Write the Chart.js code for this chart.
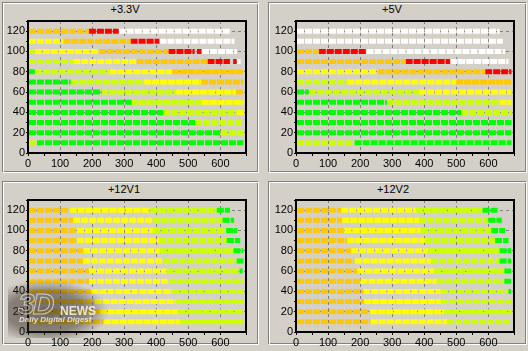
<!DOCTYPE html>
<html>
<head>
<meta charset="utf-8">
<script src="https://cdn.jsdelivr.net/npm/chart.js@4"></script>
<style>
  html, body { margin: 0; padding: 0; overflow: hidden; }
  body { width: 528px; height: 351px; background: #d4d0c8; position: relative; font-family: 'Liberation Sans', Arial, sans-serif; }
  .box { position: absolute; border: 1px solid #808080; box-sizing: border-box; }
  .box.hi { border-color: #ffffff; }
  canvas { position: absolute; }
  .title { position: absolute; width: 100px; text-align: center; font-size: 11px; line-height: 13px; color: #000; }
  .wm { position: absolute; pointer-events: none; }
</style>
</head>
<body>
<div class="box" style="left:2px;top:2px;width:256px;height:170px"></div>
<div class="box hi" style="left:3px;top:3px;width:256px;height:170px"></div>
<div class="box" style="left:268px;top:2px;width:258px;height:170px"></div>
<div class="box hi" style="left:269px;top:3px;width:258px;height:170px"></div>
<div class="box" style="left:2px;top:181px;width:256px;height:163px"></div>
<div class="box hi" style="left:3px;top:182px;width:256px;height:163px"></div>
<div class="box" style="left:268px;top:181px;width:258px;height:163px"></div>
<div class="box hi" style="left:269px;top:182px;width:258px;height:163px"></div>

<div class="title" style="left:75px;top:3px">+3.3V</div>
<div class="title" style="left:342px;top:3px">+5V</div>
<div class="title" style="left:74px;top:183px">+12V1</div>
<div class="title" style="left:343px;top:183px">+12V2</div>

<canvas id="c33" width="260" height="172" style="left:0px;top:0px"></canvas>
<canvas id="c5" width="260" height="172" style="left:268px;top:0px"></canvas>
<canvas id="c12a" width="260" height="172" style="left:0px;top:179px"></canvas>
<canvas id="c12b" width="260" height="172" style="left:268px;top:179px"></canvas>

<div class="wm" style="left:8px;top:280px;width:100px;height:58px;background:radial-gradient(ellipse at 38% 55%, rgba(45,35,25,0.6) 0%, rgba(45,35,25,0.45) 45%, rgba(45,35,25,0) 72%);"></div>
<div class="wm" style="left:18px;top:287px;font:italic bold 30px 'Liberation Sans', Arial, sans-serif;color:rgba(120,110,100,0.35);-webkit-text-stroke:1px rgba(255,255,255,0.6);letter-spacing:-2px">3D</div>
<div class="wm" style="left:60px;top:304px;font:bold 12px 'Liberation Sans', Arial, sans-serif;color:rgba(255,255,255,0.8)">NEWS</div>
<div class="wm" style="left:19px;top:315px;font:italic bold 8px 'Liberation Sans', Arial, sans-serif;color:rgba(255,255,255,0.75)">Daily Digital Digest</div>

<script>
// load levels of each row (same for all four maps)
const rowLoads = [120, 110, 100, 90, 80, 70, 60, 50, 40, 30, 20, 10];
const xTickLabels = [0, 100, 200, 300, 400, 500, 600];
const yTickLabels = [0, 20, 40, 60, 80, 100, 120];

// one letter per zone along a row: G green, L light green, Y yellow, O orange, R red, W white, x = nothing
const zones33 = ['ORW', 'YORW', 'LYORxRxW', 'LYORxRW', 'GLYO', 'GLYO', 'GLYO', 'GLY', 'GLY', 'GL', 'GL', 'LG'];
const edges33 = [
  [3, 190, 283, 632],
  [3, 110, 320, 410, 644],
  [3, 21, 221, 438, 520, 527, 541, 543, 652],
  [3, 141, 339, 560, 630, 640, 651, 663],
  [3, 21, 254, 449, 672],
  [3, 133, 362, 540, 672],
  [3, 229, 462, 648, 672],
  [3, 323, 542, 672],
  [3, 422, 651, 672],
  [3, 521, 672],
  [3, 601, 672],
  [3, 28, 672]
];

const zones5 = ['W', 'W', 'ORW', 'ORW', 'YOR', 'LYO', 'GLY', 'GLY', 'GL', 'G', 'G', 'LG'];
const edges5 = [
  [3, 635],
  [3, 645],
  [3, 71, 220, 652],
  [3, 342, 481, 663],
  [3, 254, 590, 672],
  [3, 160, 499, 672],
  [3, 40, 384, 672],
  [3, 283, 635, 672],
  [3, 515, 672],
  [3, 672],
  [3, 672],
  [3, 183, 672]
];

const zones12a = ['OYLG', 'OYLG', 'OYLG', 'OYLG', 'OYLG', 'OYLG', 'OYLG', 'OYL', 'OYL', 'OYL', 'OYL', 'OYL'];
const edges12a = [
  [3, 130, 382, 589, 630],
  [3, 141, 391, 607, 643],
  [3, 153, 391, 618, 653],
  [3, 153, 409, 620, 662],
  [3, 172, 411, 641, 672],
  [3, 172, 422, 651, 672],
  [3, 190, 432, 660, 669],
  [3, 190, 441, 672],
  [3, 198, 451, 672],
  [3, 208, 461, 672],
  [3, 224, 469, 672],
  [3, 236, 474, 672]
];

const zones12b = ['OYLG', 'OYLG', 'OYLG', 'OYLG', 'OYLG', 'OYLG', 'OYLG', 'OYLG', 'OYLG', 'OYL', 'OYL', 'OYL'];
const edges12b = [
  [3, 141, 374, 582, 632],
  [3, 144, 384, 600, 642],
  [3, 151, 389, 609, 652],
  [3, 160, 402, 621, 663],
  [3, 172, 412, 635, 671],
  [3, 183, 421, 635, 671],
  [3, 191, 431, 650, 671],
  [3, 201, 439, 650, 671],
  [3, 210, 452, 663, 671],
  [3, 212, 452, 671],
  [3, 231, 462, 671],
  [3, 233, 471, 671]
];

const zoneColors = { G: '#00ff00', L: '#ccff00', Y: '#ffff00', O: '#ffc800', R: '#ff0000', W: '#ffffff' };

Chart.defaults.font.family = "'Liberation Sans', Arial, sans-serif";
Chart.defaults.font.size = 11;
Chart.defaults.color = '#000';

const frame = {
  id: 'frame',
  afterDatasetsDraw(chart) {
    const { ctx, chartArea: a } = chart;
    ctx.save();
    ctx.strokeStyle = '#000';
    ctx.lineWidth = 2;
    ctx.strokeRect(a.left, a.top, a.right - a.left, a.bottom - a.top);
    ctx.restore();
  }
};

function buildDatasets(zones, edges) {
  return Object.keys(zoneColors).map(function (code) {
    const pts = [];
    zones.forEach(function (z, r) {
      z.split('').forEach(function (c, s) {
        if (c !== code) return;
        pts.push({ x: edges[r][s], y: rowLoads[r] });
        pts.push({ x: edges[r][s + 1], y: rowLoads[r] });
        pts.push({ x: edges[r][s + 1], y: null });
      });
    });
    return {
      data: pts,
      borderColor: zoneColors[code],
      borderWidth: 5,
      borderDash: [7, 1],
      borderCapStyle: 'butt',
      pointRadius: 0,
      spanGaps: false,
      tension: 0
    };
  });
}

function makeChart(id, zones, edges) {
  new Chart(document.getElementById(id), {
    type: 'line',
    data: { datasets: buildDatasets(zones, edges) },
    options: {
      responsive: false,
      animation: false,
      layout: { padding: { top: 21, right: 14, bottom: 1, left: 0 } },
      plugins: { legend: { display: false }, tooltip: { enabled: false } },
      scales: {
        x: {
          type: 'linear', min: 0, max: 680,
          afterFit: function (s) { s.height = 18; },
          ticks: {
            stepSize: 50, autoSkip: false, maxRotation: 0, padding: 1,
            callback: function (v) { return xTickLabels.includes(v) ? v : ''; }
          },
          grid: {
            color: function (c) { return c.tick && c.tick.value % 100 === 0 && c.tick.value > 0 ? '#808080' : 'rgba(0,0,0,0)'; },
            tickColor: '#000', tickLength: 3
          },
          border: { display: false, dash: [3, 3] }
        },
        y: {
          type: 'linear', min: 0, max: 130,
          afterFit: function (s) { s.width = 28; },
          ticks: {
            stepSize: 10, autoSkip: false, padding: 1,
            callback: function (v) { return yTickLabels.includes(v) ? v : ''; }
          },
          grid: {
            color: function (c) { return c.tick && c.tick.value % 20 === 0 && c.tick.value > 0 && c.tick.value < 130 ? '#808080' : 'rgba(0,0,0,0)'; },
            tickColor: '#000', tickLength: 2
          },
          border: { display: false, dash: [3, 3] }
        }
      }
    },
    plugins: [frame]
  });
}

makeChart('c33', zones33, edges33);
makeChart('c5', zones5, edges5);
makeChart('c12a', zones12a, edges12a);
makeChart('c12b', zones12b, edges12b);
</script>
</body>
</html>
